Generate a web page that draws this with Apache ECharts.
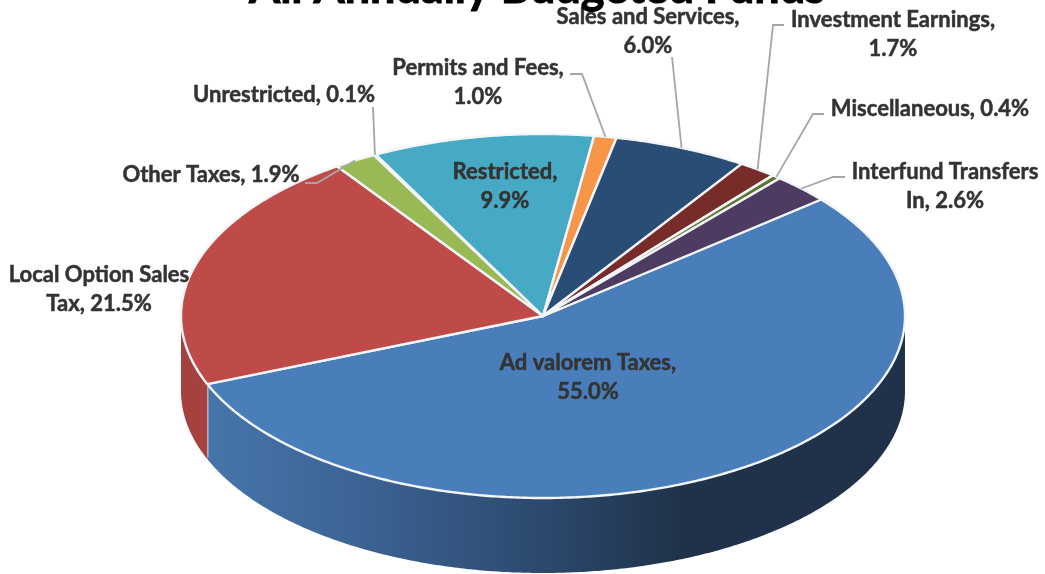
<!DOCTYPE html>
<html>
<head>
<meta charset="utf-8">
<title>All Annually Budgeted Funds</title>
<style>html,body{margin:0;padding:0;background:#fff}#chart{width:1045px;height:574px}</style>
<script src="https://cdn.jsdelivr.net/npm/echarts@6/dist/echarts.min.js"></script>
</head>
<body>
<div id="chart"></div>
<script>
// Revenue shares, clockwise from the Ad valorem slice
const categories = ['Ad valorem Taxes', 'Local Option Sales Tax', 'Other Taxes', 'Unrestricted', 'Restricted',
  'Permits and Fees', 'Sales and Services', 'Investment Earnings', 'Miscellaneous', 'Interfund Transfers In'];
const shares = [55.0, 21.5, 1.9, 0.1, 9.9, 1.0, 6.0, 1.7, 0.4, 2.6];
const topColors = ['#4a7ebb', '#be4b48', '#98b954', '#7d60a0', '#46aac5', '#f79646', '#2a4d76', '#772c2a', '#5f7530', '#4d3b62'];

// Tilted disc geometry
const CX = 543, CY = 316, RX = 362, RY = 182, DEPTH = 75, START_DEG = 50.2;

// Label layout: block centre, words on the first line (0 = single line), leader elbow points
const labelCentres = [[588, 377], [99, 289], [211, 175], [284, 95], [505, 186], [478, 82], [648, 31], [893, 34], [930, 109], [945, 186]];
const firstLineWords = [3, 3, 0, 0, 1, 3, 3, 2, 0, 2];
const leaders = [null, null, [[305, 183], [317, 183]], [[373, 107]], null, [[570, 74], [582, 74]], [[672, 57]],
  [[784, 25], [773, 25]], [[824, 114], [813, 114]], [[845, 177], [833, 177]]];

const total = shares.reduce((a, b) => a + b, 0);
const FONT = 'Lato, "Open Sans", sans-serif';

function rim(deg, drop) {
  const t = deg * Math.PI / 180;
  return [CX + RX * Math.sin(t), CY - RY * Math.cos(t) + (drop || 0)];
}
function arc(from, to, drop) {
  const pts = [], n = Math.max(2, Math.ceil(Math.abs(to - from) * 2));
  for (let i = 0; i <= n; i++) pts.push(rim(from + (to - from) * i / n, drop));
  return pts;
}
function sliceRange(i) {
  let before = 0;
  for (let k = 0; k < i; k++) before += shares[k];
  return [START_DEG + before / total * 360, START_DEG + (before + shares[i]) / total * 360];
}
function labelText(i) {
  const words = (categories[i] + ', ' + shares[i].toFixed(1) + '%').split(' ');
  const n = firstLineWords[i];
  return n ? words.slice(0, n).join(' ') + '\n' + words.slice(n).join(' ') : words.join(' ');
}
function wallFill(i) {
  if (i !== 0) return '#a5413f';
  return {
    type: 'linear', x: 0, y: 0, x2: 1, y2: 0,
    colorStops: [
      { offset: 0, color: '#4675ab' }, { offset: 0.2, color: '#3d6596' },
      { offset: 0.45, color: '#2e4c72' }, { offset: 0.68, color: '#1f3249' }, { offset: 1, color: '#1f3249' }
    ]
  };
}

function renderSlice(params, api) {
  const i = params.dataIndex;
  const [a0, a1] = sliceRange(i);
  const children = [];
  // The side wall only shows on the front half of the disc
  const w0 = Math.max(a0, 90), w1 = Math.min(a1, 270);
  if (w1 > w0) {
    const lower = arc(w1, w0, DEPTH);
    children.push({
      type: 'polygon',
      shape: { points: arc(w0, w1, 0).concat(lower) },
      style: { fill: wallFill(i) }
    });
    if (a1 < 270) {
      const p = rim(a1, 0);
      children.push({
        type: 'line',
        shape: { x1: p[0], y1: p[1], x2: p[0], y2: p[1] + DEPTH - 2 },
        style: { stroke: '#d9dfe8', lineWidth: 2 }
      });
    }
  }
  children.push({
    type: 'polygon',
    shape: { points: [[CX, CY]].concat(arc(a0, a1, 0)) },
    style: { fill: api.visual('color'), stroke: '#f3f5f8', lineWidth: 2.4, lineJoin: 'round' }
  });
  return { type: 'group', children };
}

function renderLabel(params) {
  const i = params.dataIndex;
  const [a0, a1] = sliceRange(i);
  const children = [];
  if (leaders[i]) {
    children.push({
      type: 'polyline',
      shape: { points: leaders[i].concat([rim((a0 + a1) / 2, 0)]) },
      style: { stroke: '#a6a6a6', lineWidth: 1.8, fill: null }
    });
  }
  children.push({
    type: 'text',
    style: {
      text: labelText(i), x: labelCentres[i][0], y: labelCentres[i][1], align: 'center', verticalAlign: 'middle',
      font: 'bold 22px ' + FONT, lineHeight: 29, fill: '#333333', stroke: '#333333', lineWidth: 0.5
    }
  });
  return { type: 'group', children };
}

const chart = echarts.init(document.getElementById('chart'), null, { renderer: 'canvas' });
chart.setOption({
  animation: false,
  backgroundColor: '#ffffff',
  title: {
    text: 'All Annually Budgeted Funds', left: 532, top: -39, textAlign: 'center',
    textStyle: { fontFamily: FONT, fontWeight: 'bold', fontSize: 45, color: '#000000', textBorderColor: '#000000', textBorderWidth: 1 }
  },
  tooltip: { show: false },
  series: [
    {
      type: 'custom', coordinateSystem: 'none', z: 2, clip: false, renderItem: renderSlice,
      data: shares.map((v, i) => ({ name: categories[i], value: v, itemStyle: { color: topColors[i] } }))
    },
    {
      type: 'custom', coordinateSystem: 'none', z: 3, clip: false, renderItem: renderLabel,
      data: shares.map((v, i) => ({ name: categories[i], value: v }))
    }
  ]
});
</script>
</body>
</html>
